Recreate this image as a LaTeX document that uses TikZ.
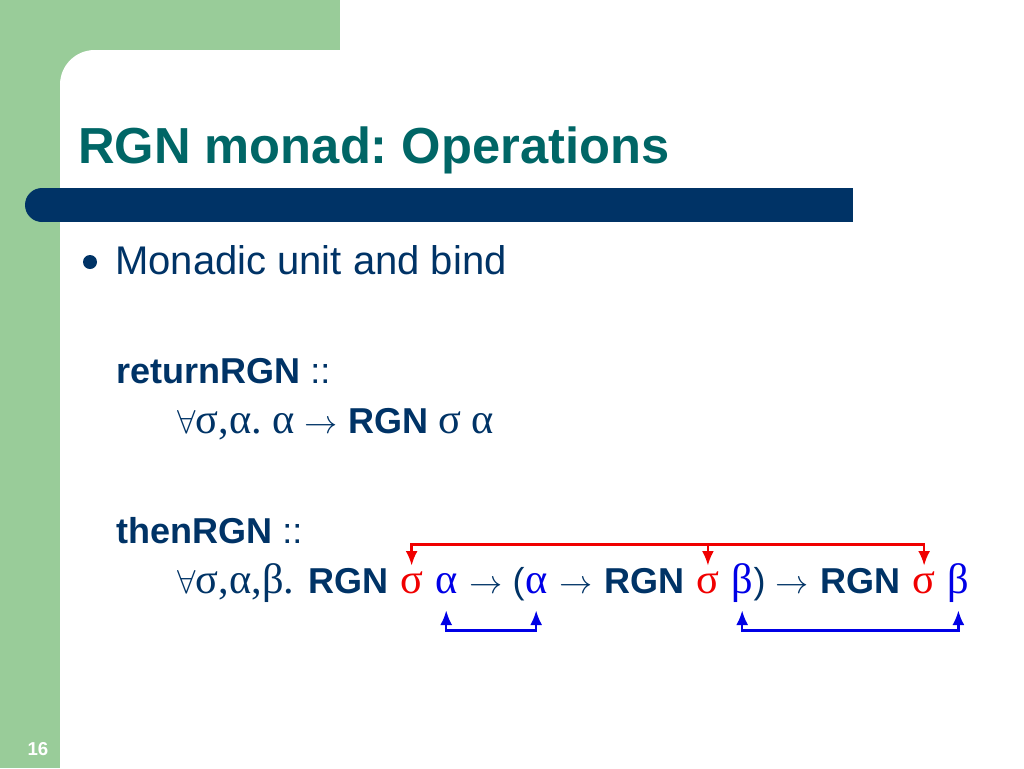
\documentclass[tikz,border=0pt]{standalone}
\usepackage{fontspec}
\setmainfont{Liberation Sans}
\newfontfamily\greekfont[Scale=1.18]{Liberation Serif}
\usetikzlibrary{arrows.meta}

\definecolor{slidegreen}{RGB}{153,204,153}
\definecolor{navy}{RGB}{0,51,102}
\definecolor{titleteal}{RGB}{0,102,102}
\definecolor{linkred}{RGB}{240,0,0}
\definecolor{linkblue}{RGB}{0,0,230}
\newcommand\gk[1]{{\greekfont #1}}
\newcommand\sgap{8.6pt}
\frenchspacing

\begin{document}
\begin{tikzpicture}[
    x=0.75pt, y=-0.75pt,
    >={Latex[length=11pt,width=9pt]},
    every node/.style={inner sep=0pt, anchor=base west, text=navy},
    title/.style={font=\fontsize{38}{44}\selectfont\bfseries, text=titleteal},
    body/.style={font=\fontsize{30}{36}\selectfont},
    code/.style={font=\fontsize{27}{32}\selectfont},
    redlink/.style={draw=linkred, line width=1.8pt},
    bluelink/.style={draw=linkblue, line width=1.8pt}
]
\tikzstyle{sigma} = [code, text=linkred]
\tikzstyle{tvar} = [code, text=linkblue]
\useasboundingbox (0,0) rectangle (1024,768);

% slide background
\fill[slidegreen] (0,0) rectangle (340,50);
\fill[slidegreen] (0,0) rectangle (60,768);
\fill[slidegreen] (60,50) rectangle (110,100);
\fill[white, rounded corners=26pt] (60,50) rectangle (160,160);
\fill[navy] (42,188) rectangle (853,222);
\fill[navy] (42,205) circle[radius=12.75pt];

\node[title] (title) at (78,163) {RGN monad: Operations};
\node[circle, fill=navy, minimum size=10.5pt, anchor=center] (bullet) at (90,262) {};
\node[body] (unit) at (115,274) {Monadic unit and bind};

\node[code] (ret) at (116,383) {\textbf{returnRGN} ::};
\node[code] (rettype) at (177,433) {$\forall$\gk{σ,α. α} $\rightarrow$ \textbf{RGN} \gk{σ α}};

\node[code] (then) at (116,543) {\textbf{thenRGN} ::};
\node[code] (quant) at (177,593) {$\forall$\gk{σ,α,β.}};
\node[code] (rgn1) at ([xshift=10pt]quant.base east) {\textbf{RGN}};
\node[sigma] (s1) at ([xshift=\sgap]rgn1.base east) {\gk{σ}};
\node[tvar] (a1) at ([xshift=\sgap]s1.base east) {\gk{α}};
\node[code] (arr1) at ([xshift=\sgap]a1.base east) {$\rightarrow$ (};
\node[tvar] (a2) at (arr1.base east) {\gk{α}};
\node[code] (arr2) at ([xshift=\sgap]a2.base east) {$\rightarrow$};
\node[code] (rgn2) at ([xshift=\sgap]arr2.base east) {\textbf{RGN}};
\node[sigma] (s2) at ([xshift=\sgap]rgn2.base east) {\gk{σ}};
\node[tvar] (b1) at ([xshift=\sgap]s2.base east) {\gk{β}};
\node[code] (arr3) at (b1.base east) {) $\rightarrow$};
\node[code] (rgn3) at ([xshift=\sgap]arr3.base east) {\textbf{RGN}};
\node[sigma] (s3) at ([xshift=\sgap]rgn3.base east) {\gk{σ}};
\node[tvar] (b2) at ([xshift=\sgap]s3.base east) {\gk{β}};

% links between the type variables
\coordinate (rtop) at ([yshift=20pt]s1.north);
\coordinate (bbot) at ([yshift=-28pt]a1.base);
\draw[redlink, <->] ([yshift=4pt]s1.north) -- (s1.north |- rtop) -| ([yshift=4pt]s3.north);
\draw[redlink, ->] (s2.north |- rtop) -- ([yshift=4pt]s2.north);
\draw[bluelink, <->] ([yshift=-13pt]a1.base) -- (a1.base |- bbot) -| ([yshift=-13pt]a2.base);
\draw[bluelink, <->] ([yshift=-13pt]b1.base) -- (b1.base |- bbot) -| ([yshift=-13pt]b2.base);

\node[font=\fontsize{14}{16}\selectfont\bfseries, text=white, anchor=center] (pageno) at (38,749) {16};
\end{tikzpicture}
\end{document}
